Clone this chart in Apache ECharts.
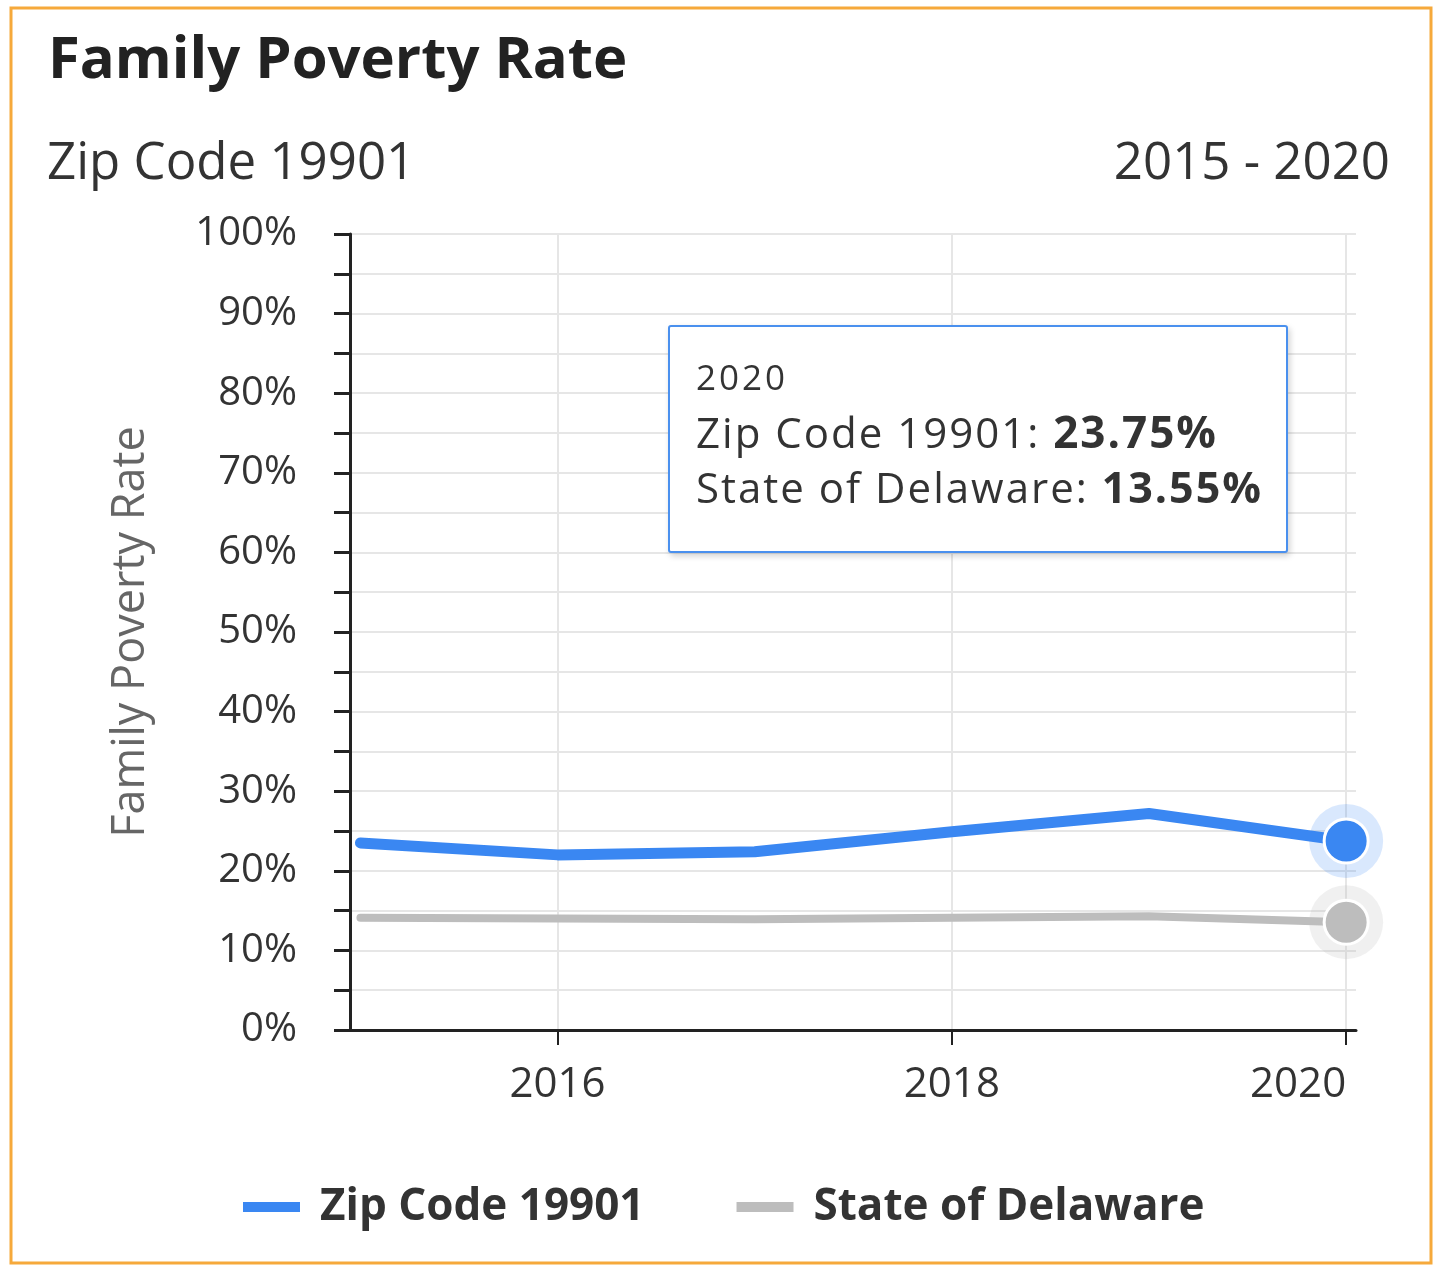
<!DOCTYPE html>
<html>
<head>
<meta charset="utf-8">
<title>Family Poverty Rate</title>
<script src="https://cdn.jsdelivr.net/npm/echarts@6/dist/echarts.min.js"></script>
<style>
  html, body { margin: 0; padding: 0; background: #fff; }
  #chart { width: 1433px; height: 1266px; }
</style>
</head>
<body>
<div id="chart"></div>
<script>
// data
const years = [2015, 2016, 2017, 2018, 2019, 2020];
const zipRates = [23.5, 22.0, 22.4, 24.9, 27.2, 23.75];
const stateRates = [14.1, 14.0, 13.9, 14.1, 14.3, 13.55];
const yearTicks = [2016, 2018, 2020];
const seriesNames = ['Zip Code 19901', 'State of Delaware'];

const BLUE = '#3a87f2';
const GRAY = '#bdbdbd';
const FONT = 'Open Sans';
const last = years.length - 1;

// line points, only the last one gets a (hover-style) marker
function toPoints(vals, color) {
  return years.map(function (y, i) {
    if (i !== last) return [y, vals[i]];
    return {
      value: [y, vals[i]],
      symbolSize: 44,
      itemStyle: { color: color, borderColor: '#fff', borderWidth: 3 }
    };
  });
}

const chart = echarts.init(document.getElementById('chart'));

const option = {
  animation: false,
  backgroundColor: '#fff',
  textStyle: { fontFamily: FONT },
  title: [{
    text: 'Family Poverty Rate',
    left: 43,
    top: 27,
    textStyle: { fontFamily: FONT, fontSize: 58, fontWeight: 'bold', color: '#222' }
  }, {
    text: 'Zip Code 19901',
    left: 42,
    top: 134,
    textStyle: { fontFamily: FONT, fontSize: 51, fontWeight: 'normal', color: '#333' }
  }, {
    text: years[0] + ' - ' + years[last],
    right: 38,
    top: 134,
    textStyle: { fontFamily: FONT, fontSize: 51, fontWeight: 'normal', color: '#333' }
  }],
  legend: {
    left: 238,
    top: 1180,
    itemWidth: 57,
    itemHeight: 10,
    itemGap: 92,
    data: [
      { name: seriesNames[0], icon: 'rect' },
      { name: seriesNames[1], icon: 'rect' }
    ],
    textStyle: {
      fontFamily: FONT, fontSize: 44, fontWeight: 'bold', color: '#333',
      padding: [0, 0, 0, 15]
    }
  },
  tooltip: {
    trigger: 'item',
    triggerOn: 'none',
    alwaysShowContent: true,
    transitionDuration: 0,
    backgroundColor: '#fff',
    borderColor: '#4a90ee',
    borderWidth: 2,
    padding: [22, 26],
    position: function () { return [668, 325]; },
    extraCssText: 'width:620px;height:228px;box-sizing:border-box;border-radius:3px;' +
      'box-shadow:2px 3px 6px rgba(0,0,0,0.18);',
    formatter: function (p) {
      const i = p.dataIndex;
      return '<div style="font-family:Open Sans;color:#333;letter-spacing:2px;">' +
        '<div style="font-size:35px;line-height:55px;letter-spacing:3px;">' + years[i] + '</div>' +
        '<div style="font-size:42px;line-height:55px;">' + seriesNames[0] + ': <b style="font-size:44px;">' + zipRates[i].toFixed(2) + '%</b></div>' +
        '<div style="font-size:42px;line-height:55px;">' + seriesNames[1] + ': <b style="font-size:43px;">' + stateRates[i].toFixed(2) + '%</b></div>' +
        '</div>';
    }
  },
  grid: {
    left: 350,
    right: 77,
    top: 234,
    bottom: 236
  },
  xAxis: {
    type: 'value',
    min: 2014.947,
    max: 2020.05,
    axisLine: { show: true, lineStyle: { color: '#222', width: 3 } },
    axisTick: {
      show: true,
      customValues: yearTicks,
      length: 15,
      lineStyle: { color: '#222', width: 2 }
    },
    axisLabel: {
      customValues: yearTicks,
      margin: 34,
      fontFamily: FONT,
      fontSize: 42,
      color: '#333',
      alignMaxLabel: 'right',
      formatter: function (v) { return String(v); }
    },
    splitLine: { show: true, lineStyle: { color: '#e6e6e6', width: 2 } }
  },
  yAxis: {
    type: 'value',
    min: 0,
    max: 100,
    interval: 10,
    name: 'Family Poverty Rate',
    nameLocation: 'middle',
    nameGap: 196,
    nameTextStyle: { fontFamily: FONT, fontSize: 45, color: '#666' },
    axisLine: { show: true, lineStyle: { color: '#222', width: 3 } },
    axisTick: { show: true, length: 16, lineStyle: { color: '#222', width: 3 } },
    minorTick: { show: true, splitNumber: 2, length: 16, lineStyle: { color: '#222', width: 3 } },
    axisLabel: {
      margin: 53,
      fontFamily: FONT,
      fontSize: 40,
      color: '#333',
      formatter: '{value}%'
    },
    splitLine: { show: true, lineStyle: { color: '#e6e6e6', width: 2 } },
    minorSplitLine: { show: true, lineStyle: { color: '#e6e6e6', width: 2 } }
  },
  graphic: [{
    type: 'rect',
    shape: { x: 11, y: 8, width: 1420, height: 1255 },
    style: { fill: 'none', stroke: '#f6a93b', lineWidth: 3 },
    silent: true
  }],
  series: [{
    // hover halos behind the last markers
    name: 'halo',
    type: 'scatter',
    silent: true,
    tooltip: { show: false },
    symbolSize: 74,
    z: 1,
    data: [
      { value: [years[last], zipRates[last]], itemStyle: { color: 'rgba(58,135,242,0.24)' } },
      { value: [years[last], stateRates[last]], itemStyle: { color: 'rgba(189,189,189,0.28)' } }
    ]
  }, {
    name: seriesNames[0],
    type: 'line',
    color: BLUE,
    symbol: 'circle',
    symbolSize: 0,
    z: 3,
    emphasis: { disabled: true },
    lineStyle: { color: BLUE, width: 11, cap: 'round', join: 'round' },
    data: toPoints(zipRates, BLUE)
  }, {
    name: seriesNames[1],
    type: 'line',
    color: GRAY,
    symbol: 'circle',
    symbolSize: 0,
    z: 2,
    emphasis: { disabled: true },
    lineStyle: { color: GRAY, width: 8, cap: 'round', join: 'round' },
    data: toPoints(stateRates, GRAY)
  }]
};

chart.setOption(option);
chart.dispatchAction({ type: 'showTip', seriesIndex: 1, dataIndex: last });
</script>
</body>
</html>
